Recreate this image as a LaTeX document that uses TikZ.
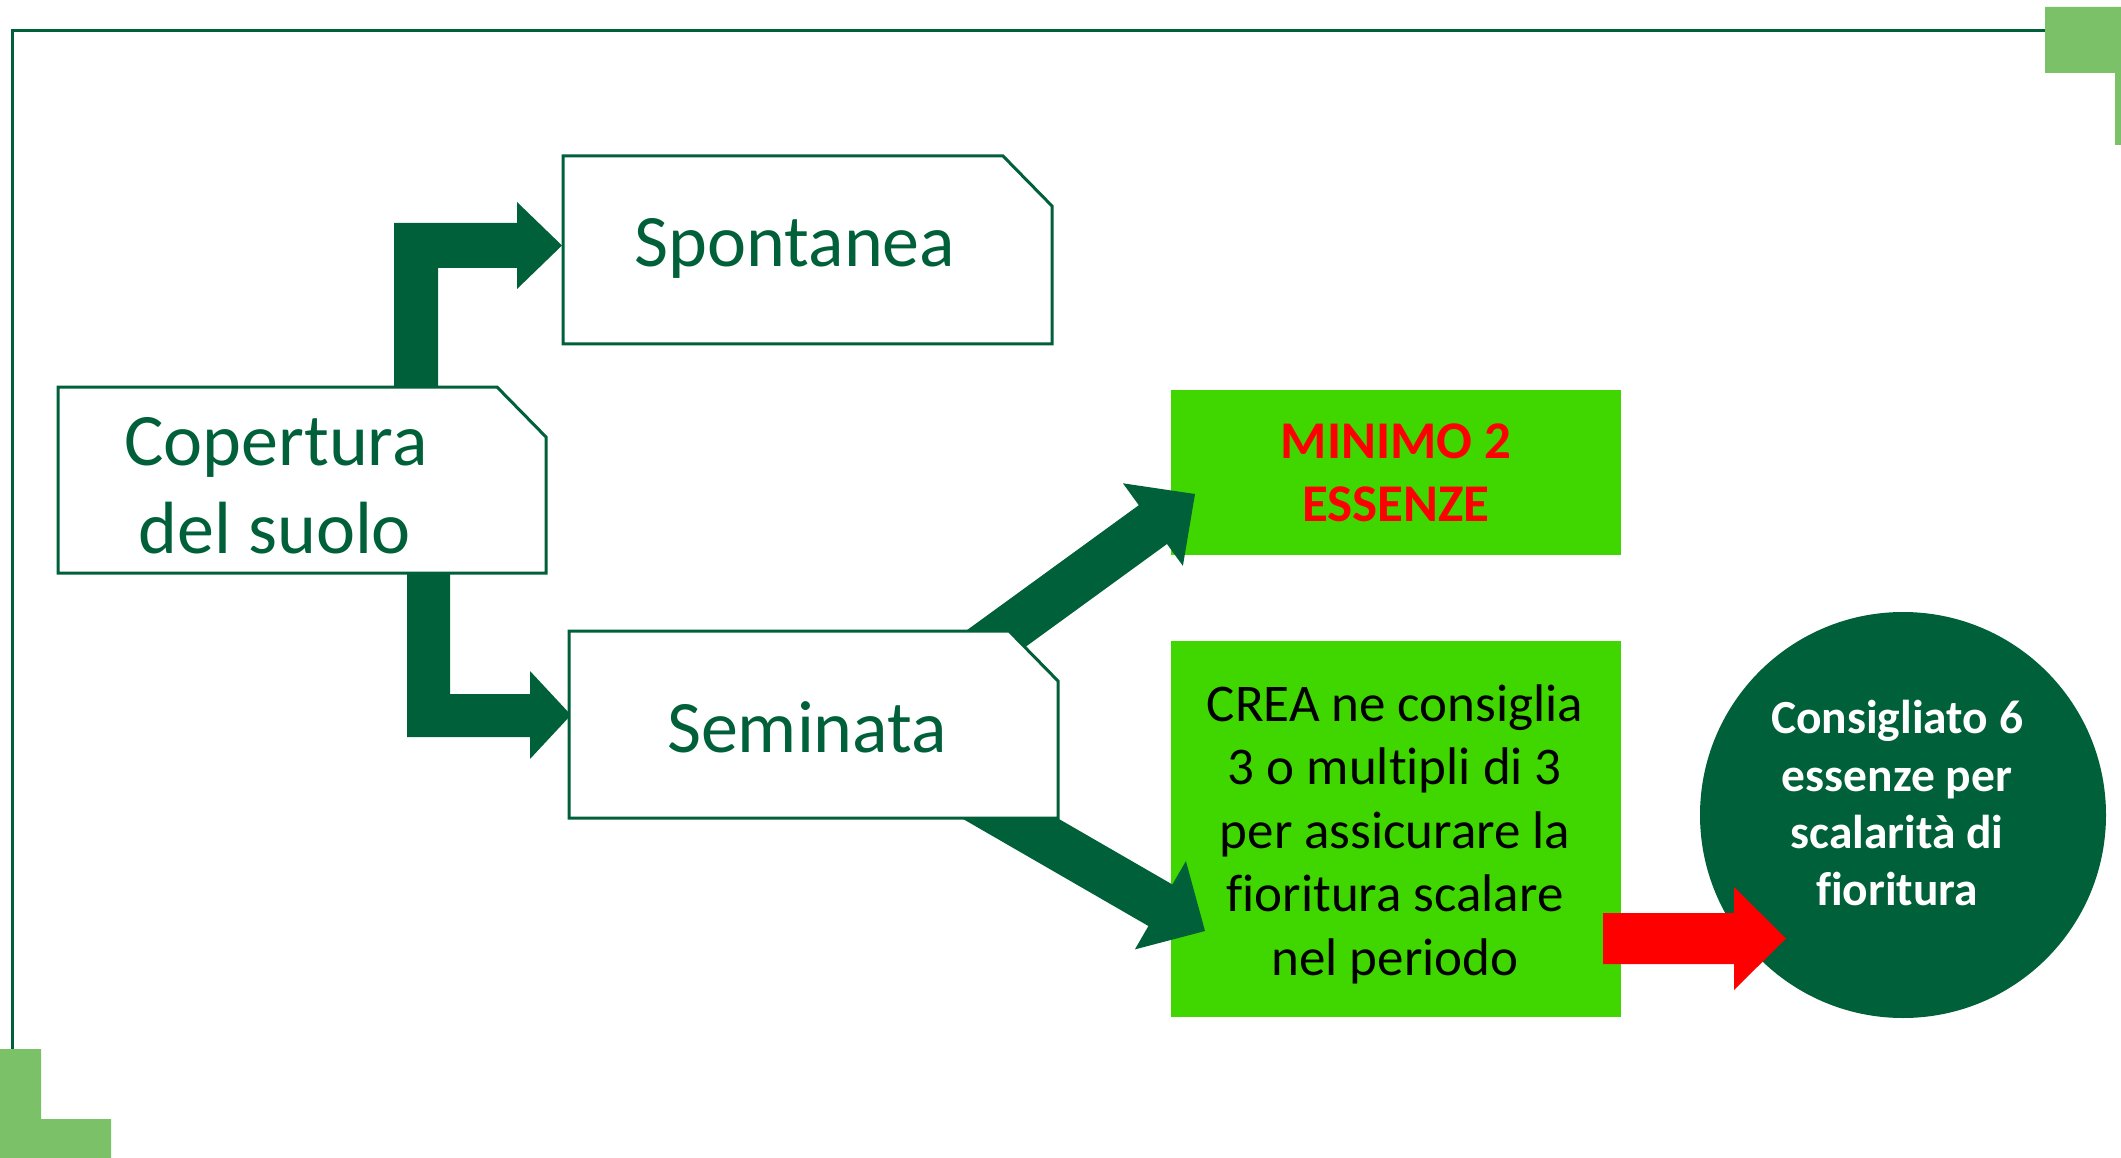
\documentclass[tikz,border=0pt]{standalone}
\usepackage{fontspec}
\setmainfont{Carlito}[Ligatures=NoCommon]
\definecolor{dkgreen}{RGB}{0,96,57}
\definecolor{ltgreen}{RGB}{122,193,103}
\definecolor{brgreen}{RGB}{64,214,0}
\definecolor{myred}{RGB}{255,0,0}
\begin{document}
\begin{tikzpicture}[x=1pt,y=-1pt,
  framebox/.style={inner sep=0pt,outer sep=0pt,draw=none},
  outline/.style={draw=dkgreen,line width=3pt,fill=white,line join=miter},
  greenbox/.style={framebox,fill=brgreen},
  blockarrow/.style={fill=dkgreen,draw=none},
  redarrow/.style={fill=myred,draw=none},
  boxtext/.style={anchor=base,inner sep=0pt,text=dkgreen,font=\fontsize{74}{86}\selectfont},
  creatext/.style={anchor=base,inner sep=0pt,text=black,font=\fontsize{53}{63}\selectfont},
  minitext/.style={anchor=base,inner sep=0pt,text=myred,font=\fontsize{53}{63}\selectfont\bfseries},
  circtext/.style={anchor=base,inner sep=0pt,text=white,font=\fontsize{47.5}{57}\selectfont\bfseries}]
\useasboundingbox (0,0) rectangle (2121,1158);
% frame and corner decorations
\draw[dkgreen,line width=3pt] (12,1049) -- (12,31) -- (2045,31);
\fill[ltgreen] (2045,7) -- (2121,7) -- (2121,145) -- (2115,145) -- (2115,73) -- (2045,73) -- cycle;
\fill[ltgreen] (0,1049) -- (41,1049) -- (41,1119) -- (111,1119) -- (111,1158) -- (0,1158) -- cycle;
% box nodes
\node[framebox,minimum width=488pt,minimum height=186pt] (cop) at (302,480) {};
\node[framebox,minimum width=489pt,minimum height=188pt] (spont) at (807.5,250) {};
\node[framebox,minimum width=489pt,minimum height=187pt] (sem) at (813.5,724.5) {};
\node[greenbox,minimum width=450pt,minimum height=165pt] (mini) at (1396,472.5) {};
\node[greenbox,minimum width=450pt,minimum height=376pt] (crea) at (1396,829) {};
\node[framebox,circle,fill=dkgreen,minimum size=406pt] (circ) at (1903,815) {};
% dark block arrows
\fill[blockarrow] (394,400) -- (394,223) -- (517,223) -- (517,202) -- (562,245.5) -- (517,289) -- (517,268) -- (438,268) -- (438,400) -- cycle;
\fill[blockarrow] (407,560) -- (407,737) -- (530,737) -- (530,759) -- (571,715) -- (530,671) -- (530,694) -- (450,694) -- (450,560) -- cycle;
\fill[blockarrow] (960.8,634.6) -- (1138.8,505.2) -- (1122.9,483.3) -- (1195,494) -- (1182.9,565.9) -- (1167.0,544.0) -- (989,673.4) -- cycle;
\fill[blockarrow] (973.2,769.5) -- (1172.4,884.5) -- (1185.9,861.1) -- (1205,931) -- (1134.9,949.4) -- (1148.4,926) -- (949.2,811) -- cycle;
% white snipped boxes
\draw[outline] (cop.south west) -- (cop.north west) -- ([xshift=-49pt]cop.north east) -- ([yshift=-50pt]cop.north east) -- (cop.south east) -- cycle;
\draw[outline] (spont.south west) -- (spont.north west) -- ([xshift=-49pt]spont.north east) -- ([yshift=-50pt]spont.north east) -- (spont.south east) -- cycle;
\draw[outline] (sem.south west) -- (sem.north west) -- ([xshift=-49pt]sem.north east) -- ([yshift=-50pt]sem.north east) -- (sem.south east) -- cycle;
% red arrow
\fill[redarrow] (1603,913) -- (1734,913) -- (1734,887) -- (1786,938.5) -- (1734,990) -- (1734,964) -- (1603,964) -- cycle;
% texts
\node[boxtext] (tcop1) at (276,465) {Copertura};
\node[boxtext] (tcop2) at (275,553) {del suolo};
\node[boxtext] (tspont) at (795,267) {Spontanea};
\node[boxtext] (tsem) at (807,752) {Seminata};
\node[minitext] (tmini1) at (1396,458) {MINIMO 2};
\node[minitext] (tmini2) at (1396,521) {ESSENZE};
\node[creatext] (tcrea1) at (1395,721) {CREA ne consiglia};
\node[creatext] (tcrea2) at (1395,784.5) {3 o multipli di 3};
\node[creatext] (tcrea3) at (1395,848) {per assicurare la};
\node[creatext] (tcrea4) at (1395,911.5) {fioritura scalare};
\node[creatext] (tcrea5) at (1395,975) {nel periodo};
\node[circtext] (tcirc1) at (1897,733) {Consigliato 6};
\node[circtext] (tcirc2) at (1897,791) {essenze per};
\node[circtext] (tcirc3) at (1897,848) {scalarità di};
\node[circtext] (tcirc4) at (1897,905) {fioritura};
\end{tikzpicture}
\end{document}
